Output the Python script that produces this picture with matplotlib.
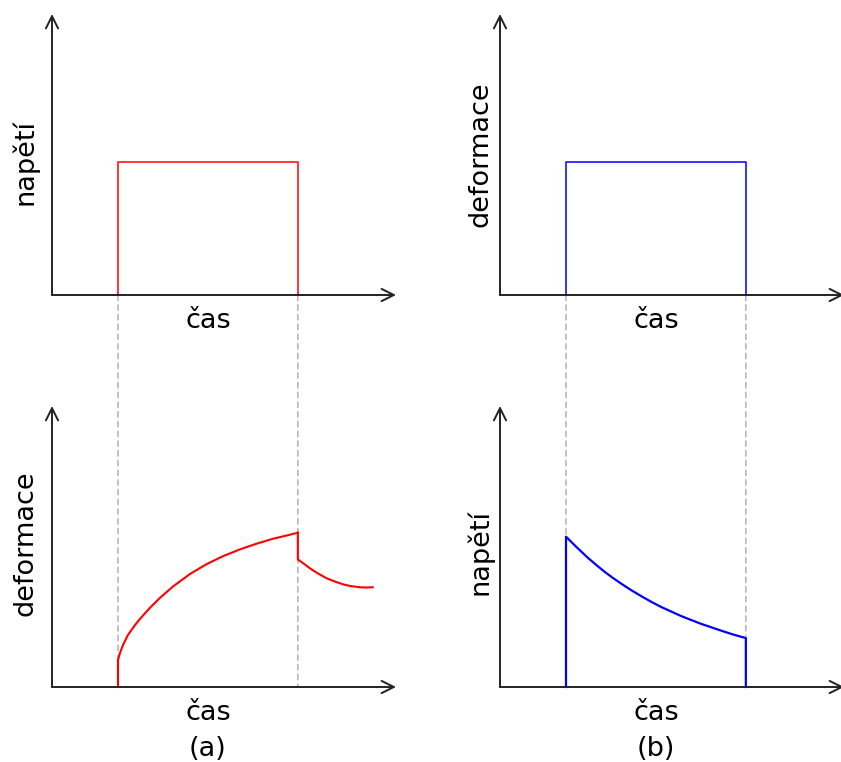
import matplotlib.pyplot as plt
from matplotlib.patches import ConnectionPatch

# time values where load is switched on / off
t_on = 2.0
t_off = 7.45
step_level = 4.73

# (a) creep: strain response to a stress step
creep_t = [2.0, 2.0, 2.06, 2.15, 2.30, 2.52, 2.67, 2.97, 3.27, 3.68, 4.18, 4.68,
           5.19, 5.70, 6.20, 6.71, 7.11, 7.45]
creep_y = [0.0, 0.96, 1.21, 1.49, 1.85, 2.21, 2.43, 2.82, 3.17, 3.59, 4.02, 4.37,
           4.66, 4.90, 5.10, 5.28, 5.39, 5.49]
recov_t = [7.45, 7.45, 7.64, 7.82, 8.06, 8.32, 8.58, 8.83, 9.06, 9.33, 9.52, 9.72]
recov_y = [5.49, 4.54, 4.38, 4.22, 4.04, 3.87, 3.75, 3.65, 3.59, 3.55, 3.54, 3.55]

# (b) relaxation: stress response to a strain step
relax_t = [2.0, 2.0, 2.30, 2.66, 2.91, 3.16, 3.41, 3.67, 3.97, 4.27, 4.57, 4.88,
           5.18, 5.48, 5.78, 6.09, 6.39, 6.69, 7.06, 7.45, 7.45]
relax_y = [0.0, 5.35, 5.00, 4.60, 4.35, 4.11, 3.89, 3.68, 3.45, 3.24, 3.04, 2.85,
           2.69, 2.53, 2.39, 2.25, 2.13, 2.01, 1.87, 1.74, 0.0]

plt.rcParams['font.family'] = 'DejaVu Sans'
fig = plt.figure(figsize=(8.41, 7.62), dpi=100)

W, H = 841, 762
def box(x0, ybase):
    return [x0 / W, 1 - ybase / H, 344 / W, 281 / H]

ax_a1 = fig.add_axes(box(52, 295))
ax_b1 = fig.add_axes(box(500, 295))
ax_a2 = fig.add_axes(box(52, 687))
ax_b2 = fig.add_axes(box(500, 687))

axis_col = '#222222'
fs = 19.5

def setup(ax, ylab, lx, ly):
    ax.set_xlim(0, 344 / 33)
    ax.set_ylim(0, 10)
    for s in ax.spines.values():
        s.set_visible(False)
    ax.set_xticks([])
    ax.set_yticks([])
    ax.patch.set_alpha(0)
    for tip in [(1, 0), (0, 1)]:
        ax.annotate('', xy=tip, xytext=(0, 0), xycoords='axes fraction',
                    arrowprops=dict(arrowstyle='->', lw=1.4, color=axis_col,
                                    mutation_scale=22, shrinkA=0, shrinkB=0))
    ax.set_ylabel(ylab, fontsize=fs)
    ax.yaxis.set_label_coords(lx, ly)
    ax.text((t_on + t_off) / 2, -1.17, 'čas', fontsize=fs, ha='center',
            va='baseline', clip_on=False)

setup(ax_a1, 'napětí', -0.039, 0.473)
setup(ax_b1, 'deformace', -0.018, 0.50)
setup(ax_a2, 'deformace', -0.039, 0.511)
setup(ax_b2, 'napětí', -0.018, 0.479)

ax_a1.plot([t_on, t_on, t_off, t_off], [0, step_level, step_level, 0],
           color='#ff0000', lw=1.1, clip_on=False)
ax_b1.plot([t_on, t_on, t_off, t_off], [0, step_level, step_level, 0],
           color='#0000ff', lw=1.1, clip_on=False)

ax_a2.plot(creep_t, creep_y, color='#ff0000', lw=1.5, clip_on=False)
ax_a2.plot(recov_t, recov_y, color='#ff0000', lw=1.5, clip_on=False)
ax_b2.plot(relax_t, relax_y, color='#0000ff', lw=1.6, clip_on=False)

# dashed guide lines linking top and bottom panels
for top, bot in [(ax_a1, ax_a2), (ax_b1, ax_b2)]:
    for t in (t_on, t_off):
        con = ConnectionPatch(xyA=(t, 0), coordsA=top.transData,
                              xyB=(t, 0), coordsB=bot.transData,
                              color='#aaaaaa', lw=1.0, linestyle=(0, (4, 3)),
                              zorder=0)
        fig.add_artist(con)

ax_a2.text((t_on + t_off) / 2, -2.46, '(a)', fontsize=fs, ha='center',
           va='baseline', clip_on=False)
ax_b2.text((t_on + t_off) / 2, -2.46, '(b)', fontsize=fs, ha='center',
           va='baseline', clip_on=False)

fig.savefig('out.png', dpi=100)
